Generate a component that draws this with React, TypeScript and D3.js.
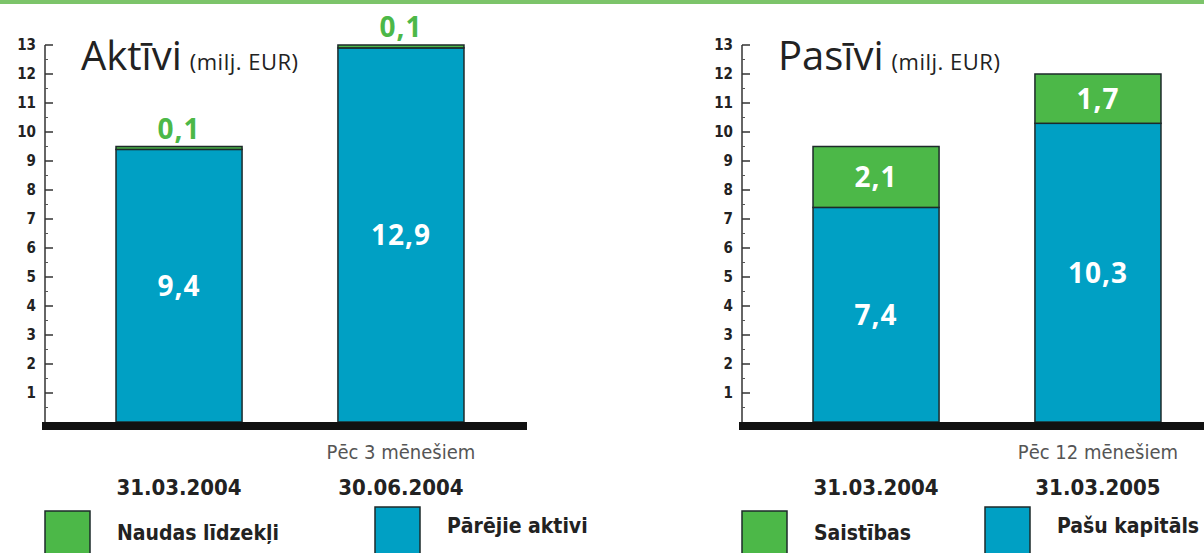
import React from "react";
import * as d3 from "d3";

const W = 1204;
const H = 553;

// Aktīvi (milj. EUR)
const aktiviDates = ["31.03.2004", "30.06.2004"];
const aktiviNote = "Pēc 3 mēnešiem";
const aktiviOther = [9.4, 12.9]; // Pārējie aktivi
const aktiviCash = [0.1, 0.1]; // Naudas līdzekļi

// Pasīvi (milj. EUR)
const pasiviDates = ["31.03.2004", "31.03.2005"];
const pasiviNote = "Pēc 12 mēnešiem";
const pasiviEquity = [7.4, 10.3]; // Pašu kapitāls
const pasiviLiab = [2.1, 1.7]; // Saistības

const yTicks = [1, 2, 3, 4, 5, 6, 7, 8, 9, 10, 11, 12, 13];

const BLUE = "#00a0c4";
const GREEN = "#4cb848";
const cond = "'DejaVu Sans Condensed', 'Liberation Sans Narrow', 'DejaVu Sans', sans-serif";
const title = "'Open Sans', 'Liberation Sans', sans-serif";

const fmt = (v: number) => v.toFixed(1).replace(".", ",");

const y = d3.scaleLinear().domain([0, 13]).range([422, 45]);

type PanelProps = {
  axisX: number;
  heading: string;
  dates: string[];
  note: string;
  bottom: number[];
  top: number[];
  bottomName: string;
  topName: string;
  baseEnd: number;
  legendShift: number;
};

const Panel = ({ axisX, heading, dates, note, bottom, top, bottomName, topName, baseEnd, legendShift }: PanelProps) => {
  const x = d3
    .scaleBand()
    .domain(dates)
    .range([axisX, axisX + 490])
    .paddingInner(0.432)
    .paddingOuter(0.32);

  const rows = dates.map((d, i) => ({ date: d, bottom: bottom[i], top: top[i] }));
  const series = d3.stack<any>().keys(["bottom", "top"])(rows);

  const minor = d3.range(0.5, 13, 1);

  return (
    <g>
      {/* bars */}
      {series.map((s) =>
        s.map((seg, i) => {
          const key = s.key;
          const bx = x(seg.data.date) as number;
          const y0 = y(seg[0]);
          const y1 = y(seg[1]);
          const v = seg[1] - seg[0];
          const small = v < 0.5;
          const cx = bx + x.bandwidth() / 2;
          return (
            <g key={key + i}>
              <rect
                x={bx}
                y={y1}
                width={x.bandwidth()}
                height={y0 - y1}
                fill={key === "bottom" ? BLUE : GREEN}
                stroke="#1d2a2a"
                strokeWidth={1.5}
              />
              <text
                x={cx}
                y={small ? y1 - 8 : (y0 + y1) / 2 + 10}
                textAnchor="middle"
                fontFamily={title}
                fontWeight={700}
                fontSize={28}
                letterSpacing={1}
                fill={small ? GREEN : "#fff"}
              >
                {fmt(v)}
              </text>
            </g>
          );
        })
      )}

      {/* y axis */}
      <line x1={axisX} x2={axisX} y1={y(0)} y2={y(13)} stroke="#333" strokeWidth={1.5} />
      {minor.map((t) => (
        <line key={"m" + t} x1={axisX} x2={axisX + 3} y1={y(t)} y2={y(t)} stroke="#555" strokeWidth={1} />
      ))}
      {yTicks.map((t) => (
        <g key={t}>
          <line x1={axisX} x2={axisX + 8} y1={y(t)} y2={y(t)} stroke="#333" strokeWidth={1.5} />
          <text
            x={axisX - 9}
            y={y(t) + 5}
            textAnchor="end"
            fontFamily={cond}
            fontWeight={700}
            fontSize={15}
            fill="#222"
          >
            {t}
          </text>
        </g>
      ))}

      {/* baseline */}
      <rect x={axisX - 3} y={y(0)} width={baseEnd - axisX + 3} height={8} fill="#111" />

      {/* heading */}
      <text x={axisX + 36} y={70} fontFamily={title} fill="#222">
        <tspan fontSize={40}>{heading}</tspan>
        <tspan fontSize={22} dx={8} letterSpacing={0.5}>(milj. EUR)</tspan>
      </text>

      {/* categories */}
      <text
        x={(x(dates[1]) as number) + x.bandwidth() / 2}
        y={459}
        textAnchor="middle"
        fontFamily={cond}
        fontSize={20}
        fill="#555"
      >
        {note}
      </text>
      {dates.map((d) => (
        <text
          key={d}
          x={(x(d) as number) + x.bandwidth() / 2}
          y={495}
          textAnchor="middle"
          fontFamily={cond}
          fontWeight={700}
          fontSize={22}
          fill="#222"
        >
          {d}
        </text>
      ))}

      {/* legend */}
      <rect x={axisX} y={511} width={45} height={50} fill={GREEN} stroke="#1d2a2a" strokeWidth={1.5} />
      <text x={axisX + 72} y={540} fontFamily={cond} fontWeight={700} fontSize={21} fill="#222">
        {topName}
      </text>
      <rect x={axisX + legendShift} y={507} width={45} height={50} fill={BLUE} stroke="#1d2a2a" strokeWidth={1.5} />
      <text x={axisX + legendShift + 72} y={533} fontFamily={cond} fontWeight={700} fontSize={21} fill="#222">
        {bottomName}
      </text>
    </g>
  );
};

export default function App() {
  return (
    <svg
      width={W}
      height={H}
      viewBox={`0 0 ${W} ${H}`}
      style={{ position: "absolute", left: 0, top: 0, background: "#fff" }}
    >
      <rect x={0} y={0} width={W} height={H} fill="#fff" />
      <rect x={0} y={0} width={W} height={4} fill="#7cc46a" />
      <Panel
        axisX={45}
        heading="Aktīvi"
        dates={aktiviDates}
        note={aktiviNote}
        bottom={aktiviOther}
        top={aktiviCash}
        bottomName="Pārējie aktivi"
        topName="Naudas līdzekļi"
        baseEnd={527}
        legendShift={330}
      />
      <Panel
        axisX={742}
        heading="Pasīvi"
        dates={pasiviDates}
        note={pasiviNote}
        bottom={pasiviEquity}
        top={pasiviLiab}
        bottomName="Pašu kapitāls"
        topName="Saistības"
        baseEnd={W}
        legendShift={243}
      />
    </svg>
  );
}
